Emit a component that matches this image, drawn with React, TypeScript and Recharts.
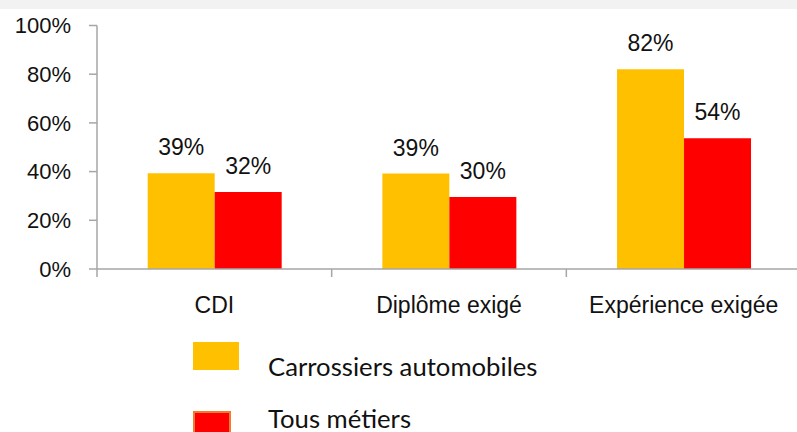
import { Bar, BarChart, LabelList, XAxis, YAxis } from "recharts";

const categories = ["CDI", "Diplôme exigé", "Expérience exigée"];
const carrossiers = [39.3, 39.2, 82];
const tousMetiers = [31.6, 29.6, 53.7];
const yTicks = [0, 20, 40, 60, 80, 100];
const seriesNames = ["Carrossiers automobiles", "Tous métiers"];

const data = categories.map((name, i) => ({
  name,
  carrossiers: carrossiers[i],
  tous: tousMetiers[i],
}));

const AXIS = "#a6a6a6";
const YELLOW = "#ffc000";
const RED = "#ff0000";
const FONT = "'Liberation Sans', Arial, sans-serif";

const PLOT_LEFT = 97;
const PLOT_W = 704;
const CAT_W = PLOT_W / categories.length;

function CategoryTick(props: any) {
  const { x, y, payload } = props;
  const bx = x - CAT_W / 2;
  return (
    <g>
      <line x1={bx} x2={bx} y1={y - 8} y2={y} stroke={AXIS} strokeWidth={1.5} />
      <text x={x} y={y} dy={36} textAnchor="middle" fill="#111" fontSize={23} fontFamily={FONT}>
        {payload.value}
      </text>
    </g>
  );
}

const pct = (v: any) => `${Math.round(Number(v))}%`;

const legendText = {
  position: "absolute" as const,
  left: 268,
  transform: "translateY(-50%)",
  fontFamily: "Lato, sans-serif",
  fontSize: 25.7,
  lineHeight: "26px",
  color: "#111",
  whiteSpace: "nowrap" as const,
};

export default function App() {
  return (
    <div
      style={{
        position: "fixed",
        left: 0,
        top: 0,
        width: 797,
        height: 432,
        overflow: "hidden",
        background: "#fff",
      }}
    >
      <div style={{ position: "absolute", left: 0, top: 0, width: 797, height: 9, background: "#f2f2f2" }} />
      <div style={{ position: "absolute", left: 0, top: 0 }}>
        <BarChart
          width={PLOT_LEFT + PLOT_W}
          height={330}
          data={data}
          margin={{ top: 25.5, right: 0, bottom: 0, left: 0 }}
          barCategoryGap="21.6%"
          barGap={0}
        >
          <XAxis
            dataKey="name"
            height={61}
            stroke={AXIS}
            axisLine={{ stroke: AXIS, strokeWidth: 1.5 }}
            tickLine={false}
            tickSize={8}
            tickMargin={0}
            tick={<CategoryTick />}
            interval={0}
          />
          <YAxis
            width={PLOT_LEFT}
            domain={[0, 100]}
            ticks={yTicks}
            tickFormatter={(v) => `${v}%`}
            axisLine={{ stroke: AXIS, strokeWidth: 1.5 }}
            tickLine={{ stroke: AXIS, strokeWidth: 1.5 }}
            tickSize={8}
            tickMargin={18}
            tick={{ fill: "#111", fontSize: 22, fontFamily: FONT }}
            interval={0}
          />
          <Bar dataKey="carrossiers" name={seriesNames[0]} fill={YELLOW} isAnimationActive={false}>
            <LabelList
              dataKey="carrossiers"
              position="top"
              offset={18}
              formatter={pct}
              style={{ fill: "#111", fontSize: 23, fontFamily: FONT }}
            />
          </Bar>
          <Bar dataKey="tous" name={seriesNames[1]} fill={RED} isAnimationActive={false}>
            <LabelList
              dataKey="tous"
              position="top"
              offset={18}
              formatter={pct}
              style={{ fill: "#111", fontSize: 23, fontFamily: FONT }}
            />
          </Bar>
        </BarChart>
      </div>
      <div style={{ position: "absolute", left: 193, top: 342, width: 46, height: 28, background: YELLOW }} />
      <div style={{ ...legendText, top: 366 }}>{seriesNames[0]}</div>
      <div
        style={{
          position: "absolute",
          left: 193,
          top: 411,
          width: 34,
          height: 30,
          background: RED,
          border: "2px solid #ed7d31",
        }}
      />
      <div style={{ ...legendText, top: 418 }}>{seriesNames[1]}</div>
    </div>
  );
}
